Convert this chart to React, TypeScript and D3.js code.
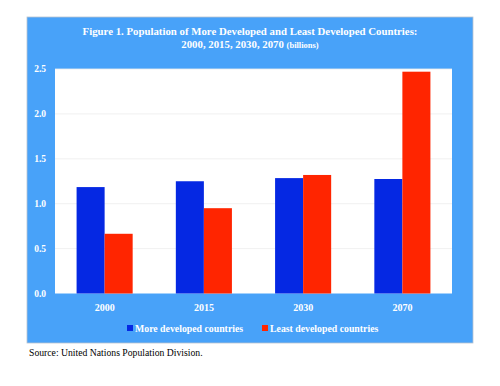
import React from "react";
import * as d3 from "d3";

const years = ["2000", "2015", "2030", "2070"];
const moreDeveloped = [1.185, 1.25, 1.285, 1.275];
const leastDeveloped = [0.665, 0.95, 1.32, 2.47];
const seriesNames = ["More developed countries", "Least developed countries"];
const seriesColors = ["#0528e3", "#ff2500"];
const yTicks = [0, 0.5, 1.0, 1.5, 2.0, 2.5];

const W = 500, H = 386;
const plot = { left: 55, right: 452, top: 69, bottom: 293.5 };
const FONT = "'Liberation Serif', 'Times New Roman', Times, serif";

export default function App() {
  const x = d3.scaleBand<string>().domain(years).range([plot.left, plot.right]).paddingInner(0.435).paddingOuter(0.2175);
  const x1 = d3.scaleBand<string>().domain(seriesNames).range([0, x.bandwidth()]);
  const y = d3.scaleLinear().domain([0, 2.5]).range([plot.bottom, plot.top]);
  const series = [moreDeveloped, leastDeveloped];
  const ts = { fontFamily: FONT };
  return (
    <svg width={W} height={H} style={{ position: "absolute", left: 0, top: 0 }}>
      <rect x={27} y={17} width={446} height={326} fill="#48a2f9" stroke="#b8c4cf" strokeWidth={0.8} />
      <text x={250} y={35} textAnchor="middle" fill="#fff" style={ts} fontWeight="bold" fontSize={10.8}>
        Figure 1. Population of More Developed and Least Developed Countries:
      </text>
      <text x={250} y={47.5} textAnchor="middle" fill="#fff" style={ts} fontWeight="bold" fontSize={10.8}>
        2000, 2015, 2030, 2070 <tspan fontSize={8.5}>(billions)</tspan>
      </text>
      <rect x={plot.left} y={plot.top} width={plot.right - plot.left} height={plot.bottom - plot.top} fill="#fff" />
      {yTicks.slice(1).map((t) => (
        <line key={t} x1={plot.left} x2={plot.right} y1={y(t)} y2={y(t)} stroke="#ececec" strokeWidth={0.8} />
      ))}
      {years.map((yr, i) =>
        series.map((s, j) => (
          <rect key={yr + j} x={(x(yr) as number) + (x1(seriesNames[j]) as number)} y={y(s[i])}
            width={x1.bandwidth()} height={plot.bottom - y(s[i])} fill={seriesColors[j]} />
        ))
      )}
      {yTicks.map((t) => (
        <text key={t} x={46} y={y(t) + 3.3} textAnchor="end" fill="#fff" style={ts} fontWeight="bold" fontSize={9.5}>
          {t.toFixed(1)}
        </text>
      ))}
      {years.map((yr) => (
        <text key={yr} x={(x(yr) as number) + x.bandwidth() / 2} y={310.5} textAnchor="middle" fill="#fff" style={ts} fontWeight="bold" fontSize={10}>
          {yr}
        </text>
      ))}
      {seriesNames.map((n, j) => {
        const lx = j === 0 ? 127 : 262;
        return (
          <g key={n}>
            <rect x={lx} y={325} width={6} height={6} fill={seriesColors[j]} />
            <text x={lx + 8} y={332} fill="#fff" style={ts} fontWeight="bold" fontSize={9.8}>{n}</text>
          </g>
        );
      })}
      <text x={29} y={356} fill="#000" style={ts} fontSize={9.7}>Source: United Nations Population Division.</text>
    </svg>
  );
}
